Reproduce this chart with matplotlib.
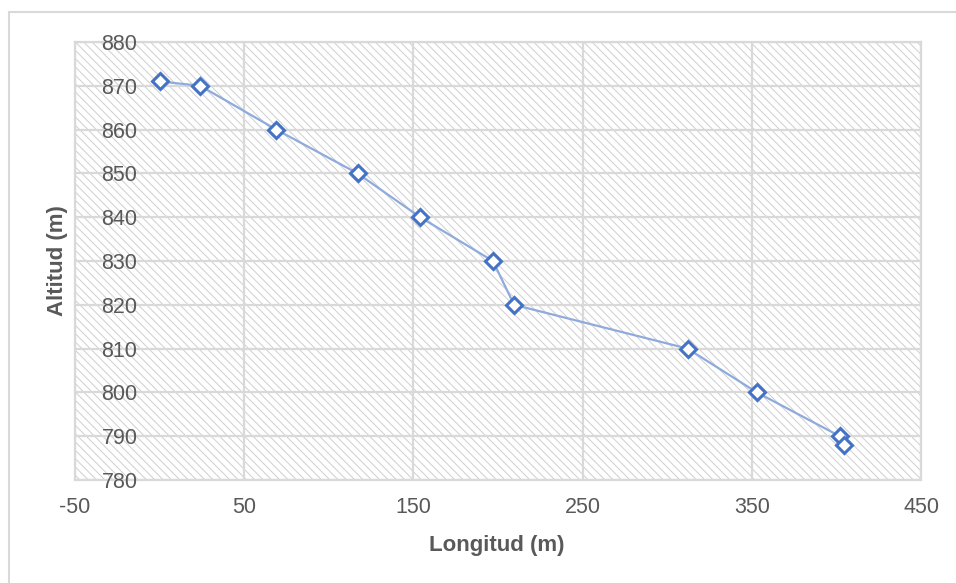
import matplotlib.pyplot as plt
from matplotlib.patches import Rectangle

# Perfil longitudinal: longitud vs altitud
longitud = [0, 24, 69, 117, 154, 197, 209.5, 312, 353, 402, 404.5]
altitud = [871, 870, 860, 850, 840, 830, 820, 810, 800, 790, 788]
x_ticks = [-50, 50, 150, 250, 350, 450]
y_ticks = [780, 790, 800, 810, 820, 830, 840, 850, 860, 870, 880]

plt.rcParams['font.family'] = ['Liberation Sans', 'DejaVu Sans']
plt.rcParams['axes.unicode_minus'] = False
plt.rcParams['hatch.linewidth'] = 0.7
plt.rcParams['hatch.color'] = '#cfcfcf'

grid_c = '#d9d9d9'
text_c = '#595959'

fig = plt.figure(figsize=(9.56, 5.83), dpi=100)
ax = fig.add_axes([75/956, 1 - 480/583, 846/956, 438/583])

# outer chart border
fig.patches.append(Rectangle((9/956, -0.05), 1.1, 1 - 12/583 + 0.05, transform=fig.transFigure,
                             fill=False, edgecolor='#d9d9d9', linewidth=1.5))

# hatched plot area
ax.add_patch(Rectangle((0, 0), 1, 1, transform=ax.transAxes, facecolor='white',
                       edgecolor='#cfcfcf', hatch='\\\\\\\\', linewidth=0, zorder=0))

ax.set_xlim(-50, 450)
ax.set_ylim(780, 880)
ax.set_xticks(x_ticks)
ax.set_yticks(y_ticks)
ax.grid(True, color=grid_c, linewidth=1.6)
ax.set_axisbelow(True)

for s in ['top', 'right', 'bottom']:
    ax.spines[s].set_color(grid_c)
    ax.spines[s].set_linewidth(1.6)
    ax.spines[s].set_zorder(0.3)
ax.spines['left'].set_position(('data', 0))
ax.spines['left'].set_visible(False)
ax.axvline(-50, color=grid_c, linewidth=1.6, clip_on=False, zorder=0.3)

ax.tick_params(axis='both', length=0, labelsize=15.5, labelcolor=text_c)
ax.tick_params(axis='y', pad=16)
ax.tick_params(axis='x', pad=12)

ax.plot(longitud, altitud, color='#8faadc', linewidth=1.6, zorder=3)
ax.plot(longitud, altitud, linestyle='none', marker='D', markersize=8,
        markerfacecolor='white', markeredgecolor='#4472c4', markeredgewidth=2.2, zorder=4)

fig.text(497/956, 1 - 545/583, 'Longitud (m)', ha='center', va='center',
         fontsize=16, fontweight='bold', color=text_c)
fig.text(58/956, 1 - 261/583, 'Altitud (m)', ha='center', va='center', rotation=90,
         fontsize=16, fontweight='bold', color=text_c)

fig.savefig('out.png', dpi=100)
